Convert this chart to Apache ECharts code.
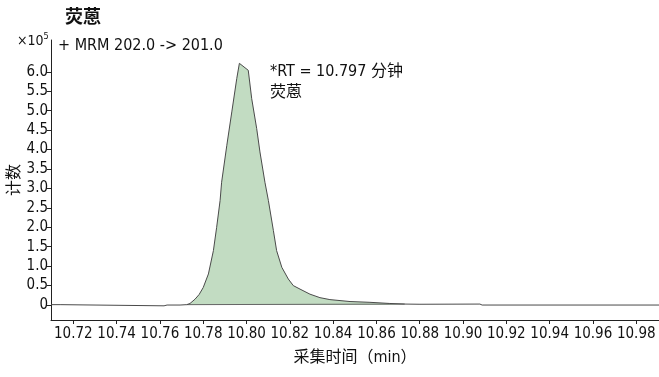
<!DOCTYPE html>
<html>
<head>
<meta charset="utf-8">
<script src="https://cdn.jsdelivr.net/npm/echarts@6/dist/echarts.min.js"></script>
<style>html,body{margin:0;padding:0;background:#fff}#c{width:659px;height:377px}</style>
</head>
<body>
<div id="c"></div>
<script>
// Retention time (min)
var traceX = [10.7097, 10.7139, 10.7148, 10.7619, 10.7633, 10.7693, 10.7724, 10.7739, 10.7762, 10.7781, 10.7800, 10.7824, 10.7847, 10.7862, 10.7878, 10.7885, 10.7909, 10.7932, 10.7955, 10.7967, 10.8008, 10.8024, 10.8047, 10.8062, 10.8085, 10.8101, 10.8124, 10.8139, 10.8163, 10.8193, 10.8216, 10.8247, 10.8293, 10.8339, 10.8385, 10.8478, 10.8570, 10.8662, 10.8731, 10.8801, 10.9078, 10.9088, 10.9905];
// Counts (x10^5)
var traceY = [0.01, 0.01, -0.02, -0.02, 0.0, 0.0, 0.01, 0.04, 0.15, 0.27, 0.45, 0.80, 1.40, 2.00, 2.69, 3.16, 4.11, 4.97, 5.83, 6.22, 6.04, 5.31, 4.54, 3.94, 3.16, 2.69, 1.92, 1.40, 0.97, 0.67, 0.50, 0.41, 0.28, 0.19, 0.14, 0.09, 0.07, 0.04, 0.025, 0.02, 0.025, 0.0, 0.0];
// Integrated peak range
var peakStart = 10.7724, peakEnd = 10.8731;
var baselineX = [10.7724, 10.8731];
var baselineY = [0.01, 0.025];
var yTicks = [0, 0.5, 1.0, 1.5, 2.0, 2.5, 3.0, 3.5, 4.0, 4.5, 5.0, 5.5, 6.0];
var xTicks = [10.72, 10.74, 10.76, 10.78, 10.80, 10.82, 10.84, 10.86, 10.88, 10.90, 10.92, 10.94, 10.96, 10.98];
var titleText = '荧蒽';
var transitionText = '+ MRM 202.0 -> 201.0';
var annotationText = '*RT = 10.797 分钟\n荧蒽';
var xName = '采集时间（min）';
var yName = '计数';

var FONT = "'DejaVu Sans Condensed','Noto Sans CJK SC',sans-serif";
var traceData = traceX.map(function (x, i) { return [x, traceY[i]]; });
var peakData = traceData.filter(function (p) { return p[0] >= peakStart && p[0] <= peakEnd; });
var baseData = baselineX.map(function (x, i) { return [x, baselineY[i]]; });

var chart = echarts.init(document.getElementById('c'), null, {renderer: 'canvas'});
chart.setOption({
  animation: false,
  backgroundColor: '#fff',
  title: {
    text: titleText, left: 60, top: 4,
    textStyle: {fontFamily: FONT, fontSize: 18, fontWeight: 'bold', color: '#111'}
  },
  grid: {left: 51, right: 0, top: 40, bottom: 57, containLabel: false, outerBoundsMode: 'none'},
  xAxis: {
    type: 'value', min: 10.7097, max: 10.9905,
    name: xName, nameLocation: 'middle', nameGap: 30, nameMoveOverlap: false,
    nameTextStyle: {fontFamily: FONT, fontSize: 16, color: '#111'},
    axisLine: {show: true, onZero: false, lineStyle: {color: '#222', width: 1}},
    axisTick: {show: true, length: 4, customValues: xTicks, lineStyle: {color: '#222'}},
    axisLabel: {customValues: xTicks, margin: 7, hideOverlap: false, showMinLabel: true, showMaxLabel: true,
      fontFamily: FONT, fontSize: 15, color: '#111',
      formatter: function (v) { return v.toFixed(2); }},
    splitLine: {show: false}
  },
  yAxis: {
    type: 'value', min: -0.385, max: 6.82,
    name: yName, nameLocation: 'middle', nameGap: 28, nameMoveOverlap: false,
    nameTextStyle: {fontFamily: FONT, fontSize: 16, color: '#111'},
    axisLine: {show: true, onZero: false, lineStyle: {color: '#222', width: 1}},
    axisTick: {show: true, length: 4, customValues: yTicks, lineStyle: {color: '#222'}},
    axisLabel: {customValues: yTicks, margin: 3, hideOverlap: false, showMinLabel: true, showMaxLabel: true,
      fontFamily: FONT, fontSize: 15, color: '#111',
      formatter: function (v) { return v === 0 ? '0' : v.toFixed(1); }},
    splitLine: {show: false}
  },
  graphic: [
    {type: 'text', left: 17, top: 32, style: {
      text: '{a|×10}{s|5}', fill: '#111',
      rich: {a: {fontFamily: FONT, fontSize: 14, verticalAlign: 'bottom', fill: '#111'},
             s: {fontFamily: FONT, fontSize: 9, verticalAlign: 'top', fill: '#111', padding: [0,0,7,0]}}
    }},
    {type: 'text', left: 58, top: 38, style: {text: transitionText, font: '16px ' + FONT, fill: '#111'}},
    {type: 'text', left: 270, top: 61, style: {text: annotationText, font: '16px ' + FONT, lineHeight: 21, fill: '#111'}}
  ],
  series: [
    {type: 'line', data: peakData, symbol: 'none', silent: true, z: 1,
      lineStyle: {width: 0, opacity: 0}, areaStyle: {color: '#c2dcc2', opacity: 1}},
    {type: 'line', data: baseData, symbol: 'none', silent: true, z: 2,
      lineStyle: {color: '#666', width: 1}},
    {type: 'line', data: traceData, symbol: 'none', silent: true, z: 3,
      lineStyle: {color: '#4a4a4a', width: 1}}
  ]
});
</script>
</body>
</html>
